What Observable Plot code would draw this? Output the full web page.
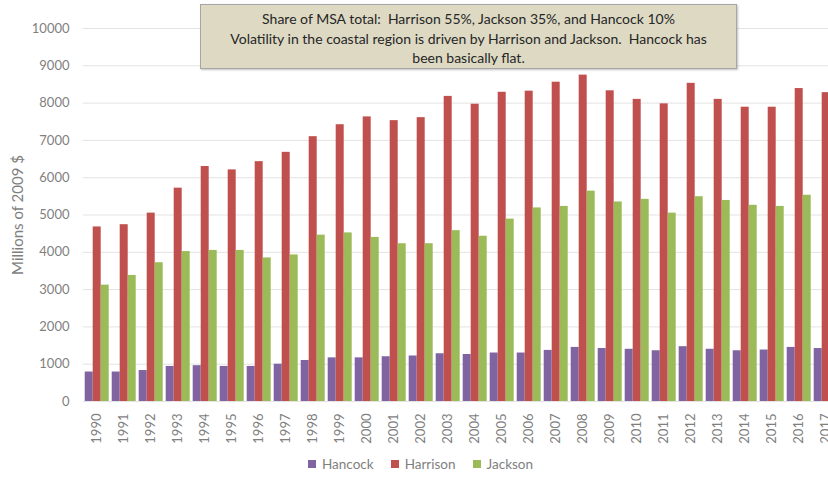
<!DOCTYPE html>
<html>
<head>
<meta charset="utf-8">
<script src="https://cdn.jsdelivr.net/npm/d3@7"></script>
<script src="https://cdn.jsdelivr.net/npm/@observablehq/plot@0.6"></script>
<style>
  html, body { margin: 0; padding: 0; background: #fff; overflow: hidden; }
  #wrap { position: relative; width: 828px; height: 477px; overflow: hidden; font-family: Lato, "Open Sans", sans-serif; }
  #chart svg { display: block; max-width: none; }
  #note {
    position: absolute; left: 200px; top: 4px; width: 537px; height: 65px; box-sizing: border-box;
    background: #ddd9c3; border: 1px solid #a6a6a6; box-shadow: 1px 1px 2px rgba(0,0,0,0.25);
    text-align: center; font-size: 14px; line-height: 19.5px; color: #262626; padding-top: 4px; white-space: pre;
  }
  #ytitle {
    position: absolute; left: 17px; top: 215px; transform: translate(-50%, -50%) rotate(-90deg);
    font-size: 15px; color: #7f7f7f; white-space: nowrap;
  }
  #legend { position: absolute; left: 308px; top: 456px; display: flex; align-items: center; gap: 17px; font-size: 13.5px; color: #7f7f7f; }
  #legend .item { display: flex; align-items: center; gap: 6px; }
  #legend .sw { width: 8px; height: 8px; display: inline-block; }
</style>
</head>
<body>
<div id="wrap">
  <div id="chart"></div>
  <div id="ytitle"></div>
  <div id="note"></div>
  <div id="legend"></div>
</div>
<script>
const years = [1990,1991,1992,1993,1994,1995,1996,1997,1998,1999,2000,2001,2002,2003,2004,2005,2006,2007,2008,2009,2010,2011,2012,2013,2014,2015,2016,2017];
const counties = ["Hancock", "Harrison", "Jackson"];
const countyColors = ["#8064a2", "#c0504d", "#9bbb59"];
const hancock  = [790,790,830,940,960,940,940,1000,1100,1170,1170,1200,1220,1280,1260,1300,1300,1370,1450,1420,1400,1360,1470,1400,1360,1380,1450,1420];
const harrison = [4680,4740,5050,5720,6300,6210,6430,6680,7100,7420,7630,7530,7610,8180,7970,8290,8320,8560,8750,8330,8100,7980,8530,8100,7890,7890,8390,8280];
const jackson  = [3120,3380,3720,4020,4050,4050,3850,3930,4460,4520,4400,4230,4230,4580,4430,4890,5190,5230,5640,5350,5420,5050,5490,5390,5260,5230,5530,null];
const yTicks = [0,1000,2000,3000,4000,5000,6000,7000,8000,9000,10000];
const yTitle = "Millions of 2009 $";
const noteLines = [
  "Share of MSA total:  Harrison 55%, Jackson 35%, and Hancock 10%",
  "Volatility in the coastal region is driven by Harrison and Jackson.  Hancock has",
  "been basically flat."
];

const series = [hancock, harrison, jackson];
const rows = years.flatMap((yr, i) =>
  counties.map((c, k) => ({year: String(yr), county: c, value: series[k][i]}))
).filter(d => d.value != null);

const plot = Plot.plot({
  width: 828,
  height: 452,
  marginLeft: 83.3,
  marginRight: -10.2,
  marginTop: 28,
  marginBottom: 51,
  style: {fontFamily: "Lato, 'Open Sans', sans-serif", background: "#fff"},
  fx: {domain: years.map(String), padding: 0.06, label: null},
  x: {domain: counties, padding: 0, axis: null},
  y: {domain: [0, 10000], label: null},
  color: {domain: counties, range: countyColors},
  marks: [
    Plot.ruleY(yTicks, {stroke: "#e3e3e3", strokeWidth: 1, insetLeft: -1, insetRight: -1}),
    Plot.barY(rows, {fx: "year", x: "county", y: "value", fill: "county"}),
    Plot.axisY({ticks: yTicks, tickSize: 0, tickPadding: 15, fontSize: 13, color: "#7f7f7f", label: null, tickFormat: d => String(d)}),
    Plot.axisFx({anchor: "bottom", tickSize: 0, tickPadding: 12, tickRotate: -90, fontSize: 13, color: "#7f7f7f", label: null})
  ]
});
document.getElementById("chart").appendChild(plot);

document.getElementById("ytitle").textContent = yTitle;
document.getElementById("note").textContent = noteLines.join("\n");

const legend = document.getElementById("legend");
counties.forEach((c, k) => {
  const item = document.createElement("div");
  item.className = "item";
  const sw = document.createElement("span");
  sw.className = "sw";
  sw.style.background = countyColors[k];
  const t = document.createElement("span");
  t.textContent = c;
  item.appendChild(sw);
  item.appendChild(t);
  legend.appendChild(item);
});
</script>
</body>
</html>
